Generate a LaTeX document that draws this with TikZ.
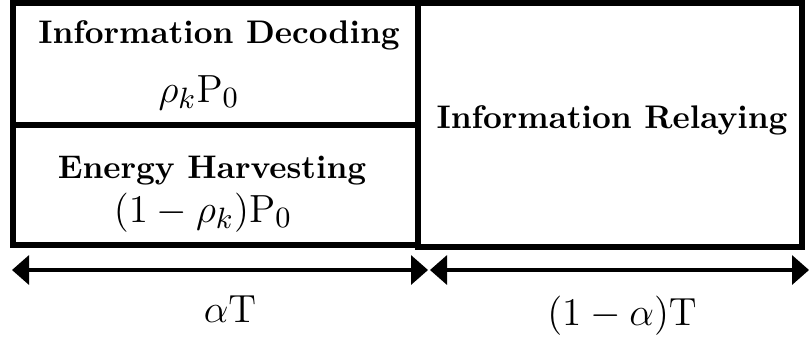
\documentclass[tikz,border=0pt]{standalone}
\usepackage{amsmath}
\usetikzlibrary{arrows.meta}

\tikzset{
    slot/.style={line width=1.55pt},
    span/.style={line width=0.95pt,{Triangle[length=5.2pt,width=8.9pt]}-{Triangle[length=5.2pt,width=8.9pt]}},
    title/.style={font=\bfseries,anchor=base,inner sep=0pt},
    power/.style={font=\fontsize{13.1}{16}\selectfont,anchor=base,inner sep=0pt}
}

\begin{document}
\begin{tikzpicture}[x=0.3058pt,y=-0.3058pt,line join=miter]

        \useasboundingbox (0,0) rectangle (810,345);

        % --- Time slots ---
        \draw[slot] (13,3) rectangle (418,245);
        \draw[slot] (13,125) -- (418,125);
        \draw[slot] (418,3) rectangle (802,247);

        % First phase: split of the received power
        \node[title] (decode) at (219,43) {Information Decoding};
        \node[power] (decodeP) at (199,102) {$\rho_k\mathrm{P}_0$};

        \node[title] (harvest) at (212,178) {Energy Harvesting};
        \node[power] (harvestP) at (203,222) {$(1-\rho_k)\mathrm{P}_0$};

        % Second phase
        \node[title] (relay) at (612,128) {Information Relaying};

        % Durations
        \coordinate (aStart) at (12,270);
        \coordinate (aEnd) at (428,270);
        \coordinate (bStart) at (430,270);
        \coordinate (bEnd) at (809,270);

        \draw[span] (aStart) -- (aEnd);
        \draw[span] (bStart) -- (bEnd);

        \node[power] (aLen) at (230,322) {$\alpha\mathrm{T}$};
        \node[power] (bLen) at (622,325) {$(1-\alpha)\mathrm{T}$};

\end{tikzpicture}
\end{document}
